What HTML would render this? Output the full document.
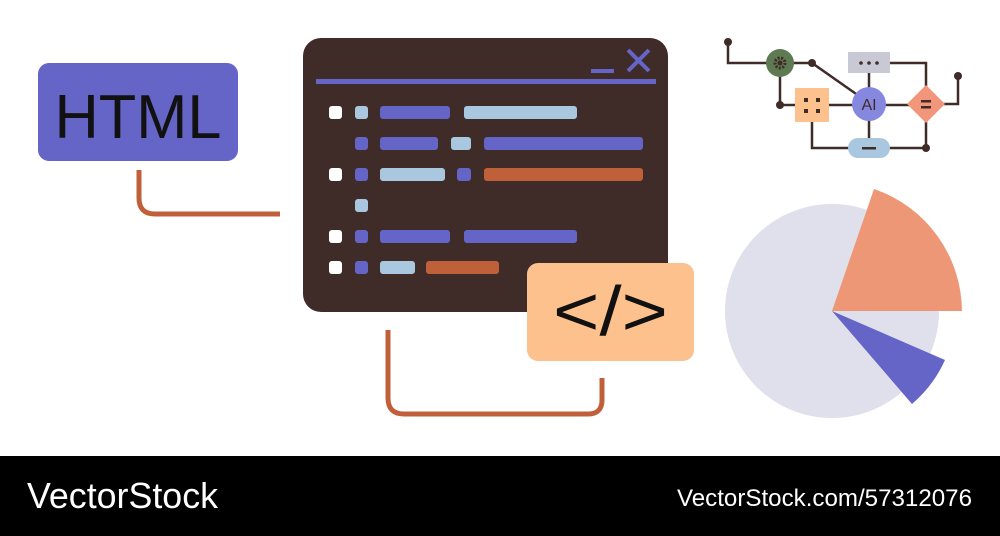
<!DOCTYPE html>
<html><head><style>
html,body{margin:0;padding:0;background:#fff;}
body{width:1000px;height:536px;position:relative;overflow:hidden;font-family:"Liberation Sans",sans-serif;}
</style></head><body>
<svg width="1000" height="536" viewBox="0 0 1000 536" style="position:absolute;left:0;top:0">
<path d="M139 170 V198 Q139 214 155 214 H280" fill="none" stroke="#c0603a" stroke-width="5"/>
<path d="M388 330 V398 Q388 414 404 414 H588 Q602 414 602 400 V378" fill="none" stroke="#c0603a" stroke-width="5"/>
<rect x="38" y="63" width="200" height="98" rx="11" fill="#6465c6"/>
<text x="138" y="138" font-size="62" text-anchor="middle" fill="#111" textLength="167" lengthAdjust="spacingAndGlyphs">HTML</text>
<rect x="303" y="38" width="365" height="274" rx="18" fill="#3f2b27"/>
<rect x="316" y="79" width="340" height="5" fill="#6465c6"/>
<rect x="591" y="69" width="23" height="4" fill="#6465c6"/>
<path d="M628 50 L649 71 M649 50 L628 71" stroke="#6465c6" stroke-width="4"/>
<g>
<rect x="329" y="106" width="13" height="13" rx="3" fill="#fff"/>
<rect x="355" y="106" width="13" height="13" rx="3" fill="#a9c8e0"/>
<rect x="380" y="106" width="70" height="13" rx="3" fill="#6465c6"/>
<rect x="464" y="106" width="113" height="13" rx="3" fill="#a9c8e0"/>
<rect x="355" y="137" width="13" height="13" rx="3" fill="#6465c6"/>
<rect x="380" y="137" width="58" height="13" rx="3" fill="#6465c6"/>
<rect x="451" y="137" width="20" height="13" rx="3" fill="#a9c8e0"/>
<rect x="484" y="137" width="159" height="13" rx="3" fill="#6465c6"/>
<rect x="329" y="168" width="13" height="13" rx="3" fill="#fff"/>
<rect x="355" y="168" width="13" height="13" rx="3" fill="#6465c6"/>
<rect x="380" y="168" width="65" height="13" rx="3" fill="#a9c8e0"/>
<rect x="457" y="168" width="14" height="13" rx="3" fill="#6465c6"/>
<rect x="484" y="168" width="159" height="13" rx="3" fill="#c0603a"/>
<rect x="355" y="199" width="13" height="13" rx="3" fill="#a9c8e0"/>
<rect x="329" y="230" width="13" height="13" rx="3" fill="#fff"/>
<rect x="355" y="230" width="13" height="13" rx="3" fill="#6465c6"/>
<rect x="380" y="230" width="70" height="13" rx="3" fill="#6465c6"/>
<rect x="464" y="230" width="113" height="13" rx="3" fill="#6465c6"/>
<rect x="329" y="261" width="13" height="13" rx="3" fill="#fff"/>
<rect x="355" y="261" width="13" height="13" rx="3" fill="#6465c6"/>
<rect x="380" y="261" width="35" height="13" rx="3" fill="#a9c8e0"/>
<rect x="426" y="261" width="73" height="13" rx="3" fill="#c0603a"/>
</g>
<rect x="527" y="263" width="167" height="98" rx="11" fill="#fdc18e"/>
<text x="553" y="335" font-size="70" fill="#111" textLength="115" lengthAdjust="spacingAndGlyphs">&lt;/&gt;</text>
<g stroke="#3f2b27" stroke-width="2.5" fill="none">
<path d="M728 42 V63 H780"/>
<path d="M780 63 H812 L869 103"/>
<path d="M780 63 V105 H812"/>
<path d="M812 105 H869 H926"/>
<path d="M869 62 V140"/>
<path d="M890 63 H926 V104"/>
<path d="M958 76 V104 H926"/>
<path d="M926 104 V148 H869"/>
<path d="M812 105 V148 H869"/>
</g>
<g fill="#3f2b27">
<circle cx="728" cy="42" r="4"/><circle cx="812" cy="63" r="4"/><circle cx="780" cy="105" r="4"/>
<circle cx="958" cy="76" r="4"/><circle cx="926" cy="148" r="4"/>
</g>
<circle cx="780" cy="63" r="14" fill="#5e7a52"/>
<circle cx="780" cy="63" r="5" fill="none" stroke="#3f2b27" stroke-width="3" stroke-dasharray="2 1.5"/>
<circle cx="780" cy="63" r="2.5" fill="#3f2b27"/>
<rect x="795" y="88" width="34" height="34" fill="#fdc18e"/>
<g fill="#3f2b27"><rect x="804" y="98" width="4" height="4"/><rect x="816" y="98" width="4" height="4"/><rect x="804" y="109" width="4" height="4"/><rect x="816" y="109" width="4" height="4"/></g>
<rect x="848" y="52" width="42" height="21" fill="#c9c9d6"/>
<g fill="#3f2b27"><circle cx="861" cy="63" r="1.8"/><circle cx="869" cy="63" r="1.8"/><circle cx="877" cy="63" r="1.8"/></g>
<circle cx="869" cy="104" r="17" fill="#8688e0"/>
<text x="869" y="110" font-size="16" text-anchor="middle" fill="#3f2b27">AI</text>
<rect x="848" y="138" width="42" height="20" rx="10" fill="#a9c8e0"/>
<rect x="862" y="147" width="14" height="2.5" fill="#3f2b27"/>
<path d="M926 85 L945 104 L926 123 L907 104 Z" fill="#f1967a"/>
<rect x="921" y="100" width="10" height="2.5" fill="#3f2b27"/><rect x="921" y="106" width="10" height="2.5" fill="#3f2b27"/>
<circle cx="832" cy="311" r="107" fill="#e0e0ec"/>
<path d="M832 311 L874 189 A130 130 0 0 1 962 311 Z" fill="#ed9776"/>
<path d="M832 311 L945 360 A126 126 0 0 1 912 404 Z" fill="#6465c6"/>
<rect x="0" y="456" width="1000" height="80" fill="#000"/>
<text x="27" y="508" font-size="36" fill="#fff" textLength="191" lengthAdjust="spacingAndGlyphs">VectorStock</text>
<text x="677" y="506" font-size="24" fill="#fff" textLength="295" lengthAdjust="spacingAndGlyphs">VectorStock.com/57312076</text>
</svg>
</body></html>
